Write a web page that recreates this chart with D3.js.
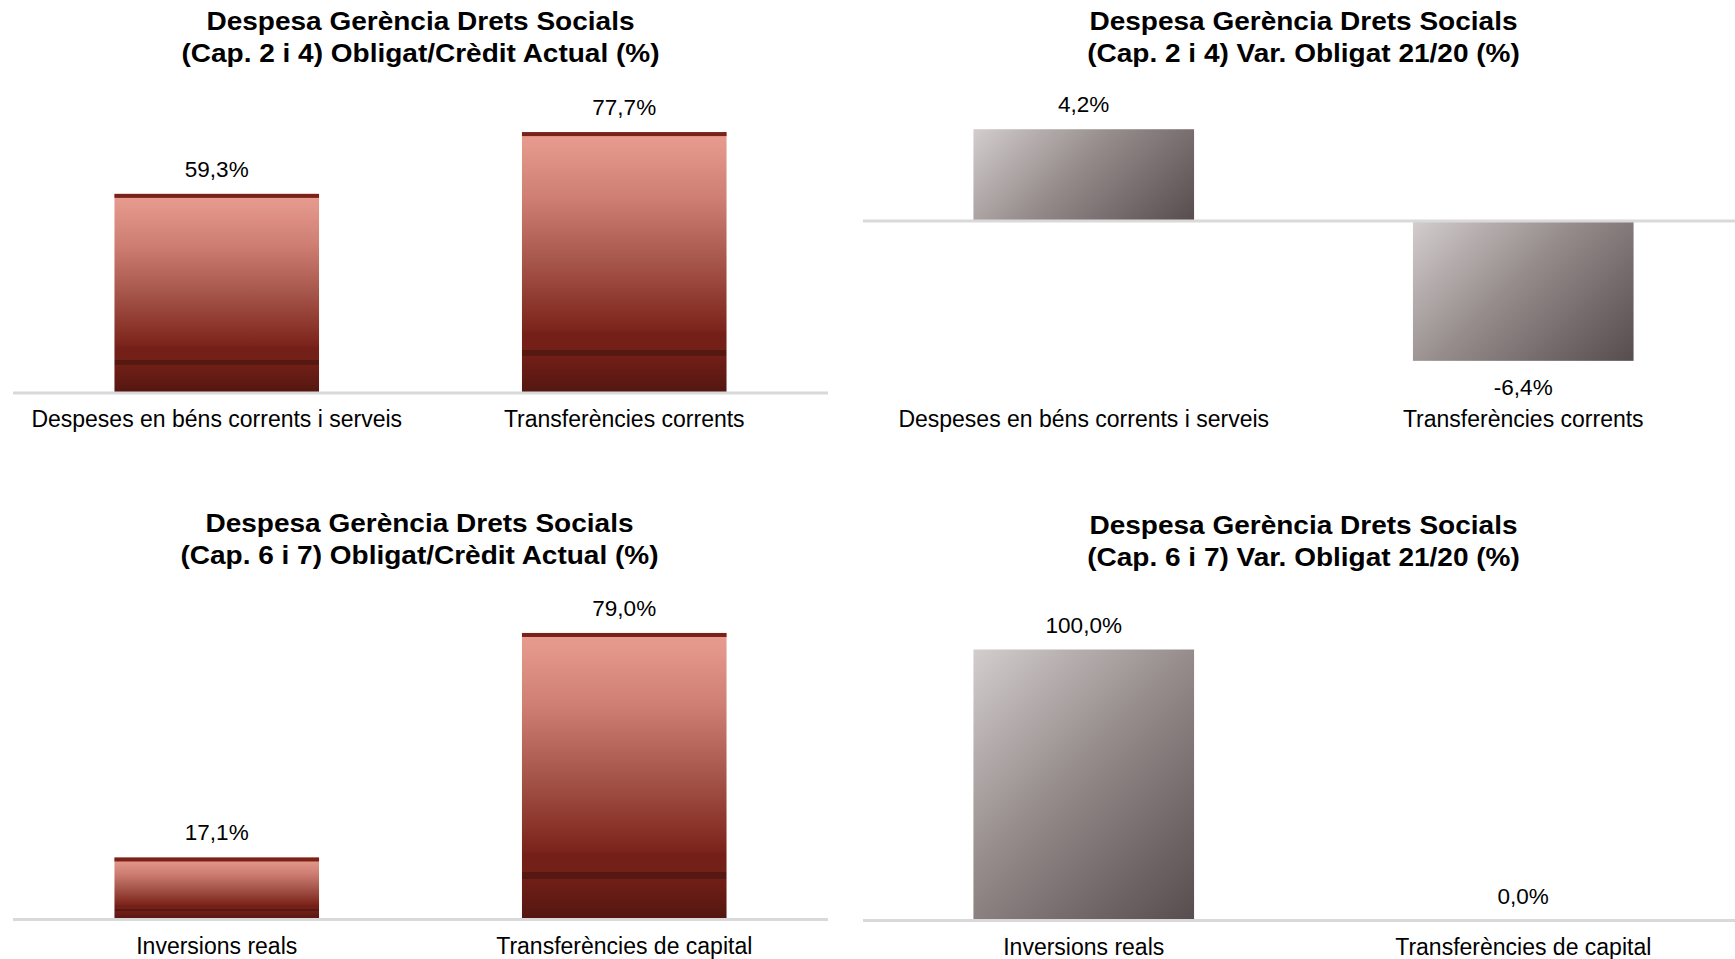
<!DOCTYPE html>
<html>
<head>
<meta charset="utf-8">
<script src="https://cdn.jsdelivr.net/npm/d3@7"></script>
<style>
  html, body { margin: 0; padding: 0; background: #ffffff; }
  svg { display: block; font-family: "Liberation Sans", Arial, sans-serif; }
</style>
</head>
<body>
<svg id="chart" width="1735" height="959"></svg>
<script>
// ---------- DATA ----------
const titleCap24Credit = ["Despesa Gerència Drets Socials", "(Cap. 2 i 4) Obligat/Crèdit Actual (%)"];
const titleCap24Var    = ["Despesa Gerència Drets Socials", "(Cap. 2 i 4) Var. Obligat 21/20 (%)"];
const titleCap67Credit = ["Despesa Gerència Drets Socials", "(Cap. 6 i 7) Obligat/Crèdit Actual (%)"];
const titleCap67Var    = ["Despesa Gerència Drets Socials", "(Cap. 6 i 7) Var. Obligat 21/20 (%)"];

const categoriesCap24 = ["Despeses en béns corrents i serveis", "Transferències corrents"];
const categoriesCap67 = ["Inversions reals", "Transferències de capital"];

const obligatCreditCap24 = [59.3, 77.7];
const varObligatCap24    = [4.2, -6.4];
const obligatCreditCap67 = [17.1, 79.0];
const varObligatCap67    = [100.0, 0.0];

// ---------- LAYOUT ----------
const panels = [
  { title: titleCap24Credit, cats: categoriesCap24, vals: obligatCreditCap24, kind: "red",
    xr: [13, 828], axis: [13, 828], yd: [0, 100], yr: [393, 57.2], tx: 420.5, ty: 29.5, cy: 427 },
  { title: titleCap24Var, cats: categoriesCap24, vals: varObligatCap24, kind: "grey",
    xr: [864, 1743], axis: [863, 1745], yd: [-10, 5], yr: [439.5, 111.75], tx: 1303.5, ty: 29.5, cy: 427 },
  { title: titleCap67Credit, cats: categoriesCap67, vals: obligatCreditCap67, kind: "red",
    xr: [13, 828], axis: [13, 828], yd: [0, 100], yr: [919.5, 556.8], tx: 419.5, ty: 532, cy: 954 },
  { title: titleCap67Var, cats: categoriesCap67, vals: varObligatCap67, kind: "grey",
    xr: [864, 1743], axis: [863, 1745], yd: [0, 100], yr: [920.5, 649.5], tx: 1303.5, ty: 534, cy: 955 }
];

const fmt = v => d3.format(".1f")(v).replace("\u2212", "-").replace(".", ",") + "%";

const svg = d3.select("#chart");
const defs = svg.append("defs");

// red "mahogany" vertical gradient
const red = defs.append("linearGradient").attr("id", "redGrad")
  .attr("x1", 0).attr("y1", 0).attr("x2", 0).attr("y2", 1);
[
  [0.00, "#e99b8f"], [0.06, "#e3968a"], [0.25, "#cf7f73"], [0.50, "#a6554a"],
  [0.70, "#862f25"], [0.76, "#7a241b"], [0.77, "#742018"], [0.835, "#732018"],
  [0.835, "#561912"], [0.86, "#561912"], [0.86, "#711f17"], [1.00, "#531610"]
].forEach(([o, c]) => red.append("stop").attr("offset", o).attr("stop-color", c));

panels.forEach((p, pi) => {
  const g = svg.append("g");
  const x = d3.scaleBand().domain(p.cats).range(p.xr).paddingInner(0.498).paddingOuter(0.249);
  const y = d3.scaleLinear().domain(p.yd).range(p.yr);

  // title
  const t = g.append("text").attr("text-anchor", "middle")
    .attr("font-size", 25).attr("font-weight", "bold").attr("fill", "#000");
  p.title.forEach((line, i) => {
    t.append("tspan").attr("x", p.tx).attr("y", p.ty + i * 32).text(line);
  });
  t.selectAll("tspan").each(function() {
    const len = this.getComputedTextLength();
    d3.select(this).attr("textLength", len * 1.12).attr("lengthAdjust", "spacingAndGlyphs");
  });

  const data = p.cats.map((c, i) => ({ cat: c, v: p.vals[i], i }));

  if (p.kind === "grey") {
    data.forEach(d => {
      const x0 = x(d.cat), w = x.bandwidth();
      const yTop = y(Math.max(0, d.v)), h = Math.abs(y(d.v) - y(0));
      const gr = defs.append("linearGradient").attr("id", `grey${pi}_${d.i}`)
        .attr("gradientUnits", "userSpaceOnUse")
        .attr("x1", x0).attr("y1", yTop)
        .attr("x2", x0 + (w + h) / 2).attr("y2", yTop + (w + h) / 2);
      [[0, "#d3cdcd"], [0.45, "#968c8c"], [1, "#574c4e"]]
        .forEach(([o, c]) => gr.append("stop").attr("offset", o).attr("stop-color", c));
    });
  }

  g.selectAll("rect.bar").data(data.filter(d => d.v !== 0)).join("rect")
    .attr("class", "bar")
    .attr("x", d => x(d.cat))
    .attr("width", x.bandwidth())
    .attr("y", d => y(Math.max(0, d.v)))
    .attr("height", d => Math.abs(y(d.v) - y(0)))
    .attr("fill", d => p.kind === "red" ? "url(#redGrad)" : `url(#grey${pi}_${d.i})`);

  if (p.kind === "red") {
    g.selectAll("rect.cap").data(data.filter(d => d.v > 0)).join("rect")
      .attr("class", "cap")
      .attr("x", d => x(d.cat))
      .attr("width", x.bandwidth())
      .attr("y", d => y(d.v))
      .attr("height", 4)
      .attr("fill", "#7a2218");
  }

  // zero axis line
  g.append("line")
    .attr("x1", p.axis[0]).attr("x2", p.axis[1])
    .attr("y1", y(0)).attr("y2", y(0))
    .attr("stroke", "#d9d9d9").attr("stroke-width", 3);

  // value labels
  g.selectAll("text.val").data(data).join("text")
    .attr("class", "val")
    .attr("text-anchor", "middle")
    .attr("font-size", 22.5)
    .attr("fill", "#000")
    .attr("x", d => x(d.cat) + x.bandwidth() / 2)
    .attr("y", d => d.v >= 0 ? y(d.v) - 17 : y(d.v) + 34)
    .text(d => fmt(d.v));

  // category labels
  g.selectAll("text.cat").data(data).join("text")
    .attr("class", "cat")
    .attr("text-anchor", "middle")
    .attr("font-size", 23)
    .attr("fill", "#000")
    .attr("x", d => x(d.cat) + x.bandwidth() / 2)
    .attr("y", p.cy)
    .text(d => d.cat);
});
</script>
</body>
</html>
